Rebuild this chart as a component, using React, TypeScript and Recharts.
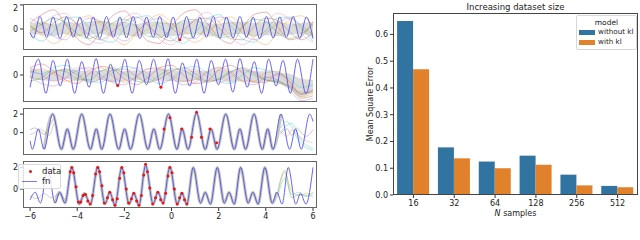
import {
  Area,
  Bar,
  BarChart,
  ComposedChart,
  Line,
  Scatter,
  XAxis,
  YAxis,
} from "recharts";

const FONT = "DejaVu Sans, Verdana, sans-serif";
const FN_BLUE = "#3f3ff2";
const DOT_RED = "#ee1111";
const BLUE = "#3274a1";
const ORANGE = "#e1812c";

// ---------- left: four function panels ----------
const X_TICKS = [-6, -4, -2, 0, 2, 4, 6];
const GRID_X = [-6, -5.5, -5, -4.5, -4, -3.5, -3, -2.5, -2, -1.5, -1, -0.5, 0, 0.5, 1, 1.5, 2, 2.5, 3, 3.5, 4, 4.5, 5, 5.5, 6];

// panel 1
const P1_FN_X = [-6.0, -5.86, -5.58, -5.3, -5.02, -4.73, -4.45, -4.17, -3.89, -3.6, -3.32, -3.04, -2.76, -2.47, -2.19, -1.91, -1.63, -1.34, -1.06, -0.78, -0.5, -0.21, 0.07, 0.35, 0.64, 0.92, 1.2, 1.48, 1.77, 2.05, 2.33, 2.61, 2.9, 3.18, 3.46, 3.74, 4.03, 4.31, 4.59, 4.87, 5.16, 5.44, 5.72, 6.0];
const P1_FN_Y = [-0.3, -0.75, 1.05, -0.7, 1.0, -0.8, 1.05, -0.7, 1.0, -0.75, 1.0, -0.8, 1.05, -0.7, 1.0, -0.75, 1.05, -0.8, 1.0, -0.7, 1.05, -0.75, 1.0, -0.9, 1.05, -0.75, 1.0, -0.7, 1.05, -0.8, 1.0, -0.75, 1.05, -0.7, 1.0, -0.8, 1.05, -0.75, 1.0, -0.7, 1.05, -0.8, 1.0, -0.8];
const P1_BAND_HI = [0.5, 0.6, 0.4, 0.6, 0.5, 0.6, 0.7, 0.5, 0.6, 0.4, 0.6, 0.6, 0.5, 0.6, 0.7, 0.5, 0.4, 0.6, 0.6, 0.5, 0.6, 0.6, 0.4, 0.5, 0.6];
const P1_BAND_LO = [-0.4, -0.5, -0.6, -0.4, -0.6, -0.5, -0.4, -0.6, -0.5, -0.6, -0.4, -0.6, -0.6, -0.5, -0.4, -0.6, -0.6, -0.5, -0.4, -0.6, -0.5, -0.6, -0.5, -0.4, -0.7];
const P1_RED = [0.5, 1.2, 1.6, 0.4, -0.8, -1.3, -0.2, 1.1, 1.5, 0.3, -1.0, -1.2, 0.2, 1.3, 1.6, 0.5, -0.7, -1.2, 0.1, 1.2, 1.4, 0.2, -0.9, -0.6, 0.6];
const P1_CYAN = [-0.4, -1.0, -0.2, 0.8, 1.0, 0.1, -0.9, -1.1, 0.0, 0.9, 1.1, 0.2, -0.8, -1.2, -0.3, 0.8, 1.2, 0.3, -0.8, -1.1, -0.1, 0.9, 1.0, 0.1, -1.0];
const P1_ORANGE = [0.2, -0.5, -1.2, -0.6, 0.6, 1.1, 0.4, -0.7, -1.3, -0.4, 0.7, 1.2, 0.5, -0.6, -1.1, -0.5, 0.6, 1.0, 0.3, -0.8, -1.3, -0.3, 0.8, 1.1, 0.2];
const P1_PURPLE = [0.9, 0.3, -0.6, -0.9, 0.2, 0.9, 0.6, -0.4, -1.0, -0.3, 0.6, 0.9, 0.1, -0.7, -0.8, 0.2, 1.0, 0.7, -0.3, -0.9, -0.4, 0.5, 0.9, 0.3, -0.5];
const P1_GREEN = [-0.2, 0.4, 0.9, 0.5, -0.4, -0.8, -0.3, 0.5, 0.8, 0.2, -0.6, -0.7, 0.0, 0.7, 0.8, 0.0, -0.7, -0.6, 0.2, 0.8, 0.6, -0.3, -0.8, -0.4, 0.4];
const P1_BROWN = [0.3, -0.3, 0.5, 1.0, 0.4, -0.5, -0.9, -0.2, 0.6, 1.0, 0.3, -0.6, -1.0, -0.1, 0.7, 0.9, 0.1, -0.8, -0.9, 0.2, 0.9, 0.7, -0.2, -0.9, -0.3];
const P1_PINK = [-0.7, 0.2, 1.1, 1.3, 0.3, -0.9, -1.2, -0.3, 0.9, 1.3, 0.4, -0.9, -1.3, -0.4, 0.8, 1.4, 0.6, -0.6, -1.3, -0.7, 0.5, 1.3, 0.8, -0.4, -1.1];
const P1_OLIVE = [0.0, 0.5, 0.2, -0.4, -0.6, 0.1, 0.6, 0.4, -0.3, -0.6, 0.0, 0.5, 0.4, -0.2, -0.5, -0.1, 0.4, 0.5, -0.1, -0.6, -0.2, 0.4, 0.5, 0.0, -0.5];
const P1_DOT_X = [0.35];
const P1_DOT_Y = [-0.9];

// panel 2
const P2_FN_X = [-6.0, -5.64, -5.33, -5.03, -4.72, -4.42, -4.11, -3.81, -3.5, -3.2, -2.89, -2.59, -2.28, -1.98, -1.67, -1.37, -1.06, -0.76, -0.45, -0.15, 0.16, 0.46, 0.77, 1.07, 1.38, 1.68, 1.99, 2.29, 2.6, 2.9, 3.21, 3.51, 3.82, 4.12, 4.43, 4.73, 5.04, 5.34, 5.7, 6.0];
const P2_FN_Y = [-1.0, 1.3, -1.5, 1.2, -0.9, 1.3, -1.5, 1.1, -1.0, 1.35, -1.5, 0.9, -0.9, 1.3, -1.5, 1.2, -0.8, 1.3, -1.0, 1.35, -1.5, 1.0, -0.9, 1.3, -1.5, 1.2, -0.8, 1.3, -1.4, 1.35, -1.0, 1.1, -1.5, 1.3, -0.9, 1.2, -1.5, 1.3, -1.5, 1.3];
const P2_BAND_HI = [0.6, 0.4, 0.3, 0.5, 0.4, 0.3, 0.4, 0.5, 0.3, 0.4, 0.3, 0.5, 0.4, 0.3, 0.4, 0.3, 0.5, 0.3, 0.4, 0.3, 0.3, 0.2, 0.1, -0.3, -0.4];
const P2_BAND_LO = [-0.2, -0.4, -0.5, -0.3, -0.5, -0.5, -0.4, -0.6, -0.5, -0.4, -0.5, -0.4, -0.5, -0.6, -0.4, -0.5, -0.4, -0.6, -0.5, -0.6, -0.5, -0.7, -1.1, -1.8, -1.4];
const P2_RED = [0.6, 0.9, 0.3, -0.4, -0.7, 0.1, 0.7, 0.5, -0.3, -0.8, -0.2, 0.6, 0.8, 0.0, -0.7, -0.5, 0.4, 0.8, 0.2, -0.6, -0.6, 0.1, -0.5, -1.6, -1.2];
const P2_PURPLE = [-0.2, -0.7, -0.9, -0.3, 0.4, 0.6, 0.0, -0.6, -0.8, -0.1, 0.5, 0.5, -0.2, -0.8, -0.6, 0.2, 0.6, 0.3, -0.5, -0.8, -0.2, -0.4, -1.2, -2.1, -1.9];
const P2_CYAN = [0.3, 0.1, 0.6, 0.8, 0.2, -0.5, -0.6, 0.2, 0.7, 0.5, -0.2, -0.7, -0.3, 0.5, 0.7, 0.2, -0.5, -0.7, 0.0, 0.6, 0.4, 0.2, -0.3, -1.0, -0.8];
const P2_GREEN = [-0.5, -0.2, 0.4, 0.3, -0.3, -0.4, 0.3, 0.6, 0.1, -0.5, -0.6, 0.0, 0.5, 0.4, -0.2, -0.6, -0.3, 0.3, 0.5, 0.0, -0.4, -0.5, -0.9, -1.5, -1.4];
const P2_ORANGE = [0.2, 0.5, 0.1, -0.5, -0.3, 0.4, 0.6, -0.1, -0.6, -0.2, 0.5, 0.6, 0.0, -0.5, -0.4, 0.3, 0.6, 0.1, -0.5, -0.5, 0.2, 0.3, -0.6, -1.8, -1.5];
const P2_BROWN = [-0.1, -0.4, 0.2, 0.5, 0.0, -0.6, -0.3, 0.4, 0.5, -0.1, -0.6, -0.3, 0.3, 0.6, 0.1, -0.5, -0.4, 0.2, 0.6, 0.2, -0.4, -0.6, -1.0, -1.9, -1.7];
const P2_PINK = [0.4, 0.0, -0.5, -0.2, 0.6, 0.4, -0.3, -0.5, 0.2, 0.6, 0.1, -0.5, -0.4, 0.3, 0.5, -0.1, -0.6, -0.2, 0.4, 0.3, -0.2, 0.0, -0.8, -1.4, -1.3];
const P2_DOT_X = [-2.28, -0.45];
const P2_DOT_Y = [-0.85, -1.0];

// panel 3
const P3_FN_X = [-6.0, -5.9, -5.65, -5.41, -5.04, -4.67, -4.42, -4.17, -3.81, -3.44, -3.19, -2.96, -2.61, -2.24, -1.99, -1.74, -1.37, -1.0, -0.75, -0.5, -0.13, 0.23, 0.45, 0.7, 1.06, 1.43, 1.68, 1.93, 2.3, 2.66, 2.9, 3.14, 3.5, 3.85, 4.08, 4.3, 4.64, 5.01, 5.26, 5.5, 5.86, 6.0];
const P3_FN_Y = [-0.9, -1.8, 0.4, -1.8, 2.0, -1.8, 0.4, -1.8, 2.0, -1.8, 0.4, -1.8, 2.0, -1.8, 0.4, -1.8, 2.0, -1.8, 0.4, -1.8, 2.0, -1.8, 0.4, -1.8, 2.1, -1.8, 0.4, -1.8, 2.0, -1.8, 0.4, -1.8, 2.0, -1.8, 0.4, -1.8, 2.0, -1.8, 0.4, -1.8, 2.0, 1.2];
const P3_END_X = [4.6, 4.9, 5.1, 5.3, 5.5, 5.7, 6.0];
const P3_CYAN_A = [0.5, 1.2, 0.6, -0.5, -1.2, -1.6, -1.9];
const P3_CYAN_B = [0.0, 0.8, 1.0, 0.2, -0.8, -1.3, -1.7];
const P3_BROWN = [-0.2, 0.4, -0.3, 0.5, 0.0, -0.4, 0.3];
const P3_PINK = [0.2, -0.4, 0.3, -0.2, -0.6, -0.9, -1.1];
const P3_START_X = [-6.0, -5.8, -5.6, -5.4, -5.2, -5.0];
const P3_START_A = [0.3, 0.5, 0.2, -0.2, 0.6, 1.5];
const P3_START_B = [-0.2, 0.0, 0.4, 0.1, -0.3, 1.0];
const P3_DOT_X = [-0.32, -0.07, 0.43, 0.85, 1.06, 1.27, 1.63, 1.91];
const P3_DOT_Y = [0.4, 1.6, 0.4, -0.5, 2.2, -0.5, 0.4, -1.1];

// panel 4
const P4_FN_X = [-6.0, -5.78, -5.56, -5.25, -4.94, -4.74, -4.52, -4.23, -3.91, -3.7, -3.44, -3.13, -2.82, -2.62, -2.4, -2.11, -1.8, -1.6, -1.38, -1.1, -0.78, -0.58, -0.36, -0.07, 0.24, 0.44, 0.65, 0.92, 1.23, 1.43, 1.65, 1.94, 2.24, 2.44, 2.66, 2.93, 3.25, 3.45, 3.67, 3.96, 4.27, 4.47, 4.69, 4.95, 5.27, 5.47, 5.7, 6.0];
const P4_FN_Y = [-1.0, -0.3, -1.3, 1.9, -1.3, -0.3, -1.3, 2.0, -1.4, -0.4, -1.4, 2.05, -1.4, -0.3, -1.5, 2.0, -1.4, -0.4, -1.5, 2.2, -1.4, -0.3, -1.3, 2.05, -1.4, -0.4, -1.4, 2.0, -1.3, -0.3, -1.4, 2.0, -1.3, -0.3, -1.4, 2.0, -1.3, -0.3, -1.4, 2.0, -1.3, -0.3, -1.4, 2.0, -1.4, -0.4, -1.4, 2.0];
const P4_END_X = [4.5, 4.8, 5.1, 5.4, 5.7, 6.0];
const P4_ORANGE = [-0.5, 1.5, -0.2, -0.6, -0.4, -0.8];
const P4_CYAN = [-0.8, 1.0, -0.5, -0.3, -0.7, -0.5];
const P4_GREEN = [-0.3, 1.7, -0.8, -0.5, -0.6, -0.3];
const P4_START_X = [-6.0, -5.7, -5.4, -5.1, -4.8, -4.5];
const P4_START = [-0.6, -0.9, -0.4, -0.8, -0.5, -1.0];
const P4_DOT_X = [-4.3, -4.23, -4.15, -4.05, -3.95, -3.85, -3.75, -3.65, -3.55, -3.45, -3.35, -3.22, -3.13, -3.05, -2.95, -2.85, -2.72, -2.62, -2.5, -2.4, -2.3, -2.2, -2.11, -2.02, -1.92, -1.82, -1.7, -1.6, -1.48, -1.38, -1.28, -1.18, -1.1, -1.02, -0.92, -0.8, -0.68, -0.58, -0.46, -0.36, -0.25, -0.15, -0.07, 0.02, 0.12, 0.24, 0.34, 0.44, 0.55, 0.65];
const P4_DOT_Y = [1.6, 2.0, 1.5, 0.2, -1.2, -1.2, -0.6, -0.5, -1.1, -1.4, -0.6, 1.4, 2.0, 1.6, 0.3, -1.3, -0.8, -0.3, -1.0, -1.5, -0.9, 1.0, 2.0, 1.5, 0.0, -1.3, -0.9, -0.4, -1.1, -1.5, -0.6, 1.3, 2.3, 1.6, 0.1, -1.4, -0.8, -0.3, -1.0, -1.3, -0.4, 1.2, 2.0, 1.5, 0.0, -1.4, -0.8, -0.4, -1.0, -1.4];

// ---------- right: bar chart ----------
const N_SAMPLES = ["16", "32", "64", "128", "256", "512"];
const WITHOUT_KL = [0.65, 0.178, 0.125, 0.147, 0.076, 0.034];
const WITH_KL = [0.47, 0.137, 0.1, 0.113, 0.036, 0.029];
const MSE_TICKS = [0, 0.1, 0.2, 0.3, 0.4, 0.5, 0.6];

type Pt = { x: number; y: number };
type Sample = { pts: Pt[]; color: string; width: number; opacity: number };

const zip = (xs: number[], ys: number[]): Pt[] => xs.map((x, i) => ({ x, y: ys[i] }));
const band = (xs: number[], lo: number[], hi: number[]) => xs.map((x, i) => ({ x, range: [lo[i], hi[i]] }));
const minus = (v: number) => (v < 0 ? `\u2212${-v}` : `${v}`);

const PANEL_W = 317;
const PLOT_LEFT = 23;
const X_DOMAIN: [number, number] = [-6.3, 6.17];

type PanelProps = {
  top: number;
  height: number;
  yDomain: [number, number];
  yTicks: number[];
  fn: Pt[];
  band?: { x: number; range: number[] }[];
  samples: Sample[];
  dots: Pt[];
  showX?: boolean;
};

function Dot(props: any) {
  return <circle cx={props.cx} cy={props.cy} r={1.5} fill={DOT_RED} />;
}

function Panel(p: PanelProps) {
  const h = p.height + (p.showX ? 24 : 0);
  const tick = { fontSize: 8, fill: "#222", fontFamily: FONT };
  return (
    <div style={{ position: "absolute", left: 0, top: p.top, width: PANEL_W, height: h }}>
      <ComposedChart width={PANEL_W} height={h} margin={{ top: 0, right: 0, bottom: 0, left: 0 }}>
        <XAxis
          type="number"
          dataKey="x"
          domain={X_DOMAIN}
          allowDataOverflow
          ticks={X_TICKS}
          tickFormatter={minus}
          hide={!p.showX}
          height={24}
          axisLine={false}
          tickSize={3}
          tick={tick}
          stroke="#333"
        />
        <YAxis
          type="number"
          domain={p.yDomain}
          ticks={p.yTicks}
          allowDataOverflow
          width={PLOT_LEFT}
          axisLine={false}
          tickSize={3}
          tickMargin={2}
          tickFormatter={minus}
          tick={tick}
          stroke="#333"
        />
        {p.band && (
          <Area
            data={p.band}
            dataKey="range"
            type="monotone"
            stroke="none"
            fill="#8f8f7a"
            fillOpacity={0.3}
            isAnimationActive={false}
          />
        )}
        {p.samples.map((s, i) => (
          <Line
            key={i}
            data={s.pts}
            dataKey="y"
            type="monotone"
            dot={false}
            stroke={s.color}
            strokeWidth={s.width}
            strokeOpacity={s.opacity}
            isAnimationActive={false}
          />
        ))}
        <Line
          data={p.fn}
          dataKey="y"
          type="monotone"
          dot={false}
          stroke={FN_BLUE}
          strokeWidth={1}
          strokeOpacity={0.8}
          isAnimationActive={false}
        />
        <Scatter data={p.dots} dataKey="y" shape={Dot} isAnimationActive={false} />
      </ComposedChart>
      <div
        style={{
          position: "absolute",
          left: PLOT_LEFT,
          top: 0,
          width: PANEL_W - PLOT_LEFT,
          height: p.height,
          border: "1.5px solid #666",
          boxSizing: "border-box",
          pointerEvents: "none",
        }}
      />
    </div>
  );
}

const thin = (xs: number[], ys: number[], color: string): Sample => ({ pts: zip(xs, ys), color, width: 1, opacity: 0.35 });
const grey = (pts: Pt[]): Sample => ({ pts, color: "#8f9478", width: 3, opacity: 0.5 });

export default function App() {
  const p3fn = zip(P3_FN_X, P3_FN_Y);
  const p4fn = zip(P4_FN_X, P4_FN_Y);
  const barData = N_SAMPLES.map((n, i) => ({ n, without: WITHOUT_KL[i], with: WITH_KL[i] }));
  const txt = { fontFamily: FONT, color: "#222" };
  const tick = { fontSize: 8, fill: "#222", fontFamily: FONT };

  return (
    <div style={{ position: "absolute", left: 0, top: 0, width: 640, height: 240, background: "#fff", overflow: "hidden" }}>
      <Panel
        top={4}
        height={46}
        yDomain={[-1.75, 2.08]}
        yTicks={[0, 2]}
        fn={zip(P1_FN_X, P1_FN_Y)}
        band={band(GRID_X, P1_BAND_LO, P1_BAND_HI)}
        samples={[
          thin(GRID_X, P1_RED, "#d62728"),
          thin(GRID_X, P1_CYAN, "#17becf"),
          thin(GRID_X, P1_ORANGE, "#ff7f0e"),
          thin(GRID_X, P1_PURPLE, "#9467bd"),
          thin(GRID_X, P1_GREEN, "#2ca02c"),
          thin(GRID_X, P1_BROWN, "#8c564b"),
          thin(GRID_X, P1_PINK, "#e377c2"),
          thin(GRID_X, P1_OLIVE, "#bcbd22"),
        ]}
        dots={zip(P1_DOT_X, P1_DOT_Y)}
      />
      <Panel
        top={56}
        height={46}
        yDomain={[-2.21, 1.56]}
        yTicks={[-2, 0]}
        fn={zip(P2_FN_X, P2_FN_Y)}
        band={band(GRID_X, P2_BAND_LO, P2_BAND_HI)}
        samples={[
          thin(GRID_X, P2_RED, "#d62728"),
          thin(GRID_X, P2_PURPLE, "#9467bd"),
          thin(GRID_X, P2_CYAN, "#17becf"),
          thin(GRID_X, P2_GREEN, "#2ca02c"),
          thin(GRID_X, P2_ORANGE, "#ff7f0e"),
          thin(GRID_X, P2_BROWN, "#8c564b"),
          thin(GRID_X, P2_PINK, "#e377c2"),
        ]}
        dots={zip(P2_DOT_X, P2_DOT_Y)}
      />
      <Panel
        top={108}
        height={47}
        yDomain={[-2.42, 2.66]}
        yTicks={[-2, 0, 2]}
        fn={p3fn}
        samples={[
          grey(p3fn.filter((d) => d.x > -5.5 && d.x < 4.7)),
          thin(P3_START_X, P3_START_A, "#8c564b"),
          thin(P3_START_X, P3_START_B, "#7f7f7f"),
          thin(P3_END_X, P3_CYAN_A, "#17becf"),
          thin(P3_END_X, P3_CYAN_B, "#17becf"),
          thin(P3_END_X, P3_BROWN, "#8c564b"),
          thin(P3_END_X, P3_PINK, "#e377c2"),
        ]}
        dots={zip(P3_DOT_X, P3_DOT_Y)}
      />
      <Panel
        top={161}
        height={47}
        yDomain={[-1.76, 2.6]}
        yTicks={[0, 2]}
        fn={p4fn}
        samples={[
          grey(p4fn.filter((d) => d.x > -5.0 && d.x < 4.5)),
          thin(P4_START_X, P4_START, "#7f7f7f"),
          thin(P4_END_X, P4_ORANGE, "#ff7f0e"),
          thin(P4_END_X, P4_CYAN, "#17becf"),
          thin(P4_END_X, P4_GREEN, "#2ca02c"),
        ]}
        dots={zip(P4_DOT_X, P4_DOT_Y)}
        showX
      />
      {/* legend of bottom panel */}
      <div
        style={{
          position: "absolute",
          left: 18,
          top: 163.5,
          width: 43,
          height: 25,
          border: "1px solid #d8d8d8",
          borderRadius: 2,
          background: "rgba(255,255,255,0.8)",
          boxSizing: "border-box",
          fontSize: 8.5,
          ...txt,
        }}
      >
        <div style={{ position: "absolute", left: 9.5, top: 5, width: 3, height: 3, borderRadius: 2, background: DOT_RED }} />
        <div style={{ position: "absolute", left: 23, top: 1, lineHeight: "11px" }}>data</div>
        <div style={{ position: "absolute", left: 3, top: 16.5, width: 15, height: 1.2, background: FN_BLUE, opacity: 0.7 }} />
        <div style={{ position: "absolute", left: 23, top: 11.5, lineHeight: "11px" }}>fn</div>
      </div>

      {/* right bar chart */}
      <div style={{ position: "absolute", left: 340, top: 0, width: 300, height: 240 }}>
        <BarChart
          width={300}
          height={240}
          data={barData}
          margin={{ top: 13, right: 2, bottom: 0, left: 0 }}
          barCategoryGap="10%"
          barGap={0}
        >
          <XAxis dataKey="n" height={45} tickSize={3} tickMargin={2} axisLine={false} stroke="#333" tick={tick} />
          <YAxis
            width={53}
            domain={[0, 0.68]}
            ticks={MSE_TICKS}
            allowDataOverflow
            tickFormatter={(v: number) => v.toFixed(1)}
            tickSize={3}
            tickMargin={2}
            axisLine={false}
            stroke="#333"
            tick={tick}
          />
          <Bar dataKey="without" fill={BLUE} isAnimationActive={false} />
          <Bar dataKey="with" fill={ORANGE} isAnimationActive={false} />
        </BarChart>
        <div
          style={{
            position: "absolute",
            left: 53,
            top: 13,
            width: 245,
            height: 182,
            border: "1px solid #444",
            boxSizing: "border-box",
            pointerEvents: "none",
          }}
        />
      </div>
      <div style={{ position: "absolute", left: 515.5, top: 7, transform: "translate(-50%, -50%)", fontSize: 8.5, whiteSpace: "nowrap", ...txt }}>
        Increasing dataset size
      </div>
      <div style={{ position: "absolute", left: 515.5, top: 213, transform: "translate(-50%, -50%)", fontSize: 8, whiteSpace: "nowrap", ...txt }}>
        <i>N</i> samples
      </div>
      <div
        style={{
          position: "absolute",
          left: 370,
          top: 104,
          transform: "translate(-50%, -50%) rotate(-90deg)",
          fontSize: 8,
          whiteSpace: "nowrap",
          ...txt,
        }}
      >
        Mean Square Error
      </div>
      {/* bar legend */}
      <div
        style={{
          position: "absolute",
          left: 576,
          top: 15,
          width: 61,
          height: 35,
          border: "1px solid #d8d8d8",
          borderRadius: 2,
          background: "rgba(255,255,255,0.8)",
          boxSizing: "border-box",
          fontSize: 7.2,
          ...txt,
        }}
      >
        <div style={{ position: "absolute", left: 0, top: 1.5, width: "100%", textAlign: "center", lineHeight: "10px", fontSize: 7.5 }}>model</div>
        <div style={{ position: "absolute", left: 2, top: 13.5, width: 16, height: 5, background: BLUE }} />
        <div style={{ position: "absolute", left: 21, top: 11, lineHeight: "10px", whiteSpace: "nowrap" }}>without kl</div>
        <div style={{ position: "absolute", left: 2, top: 23.5, width: 16, height: 5, background: ORANGE }} />
        <div style={{ position: "absolute", left: 21, top: 21, lineHeight: "10px", whiteSpace: "nowrap" }}>with kl</div>
      </div>
    </div>
  );
}
